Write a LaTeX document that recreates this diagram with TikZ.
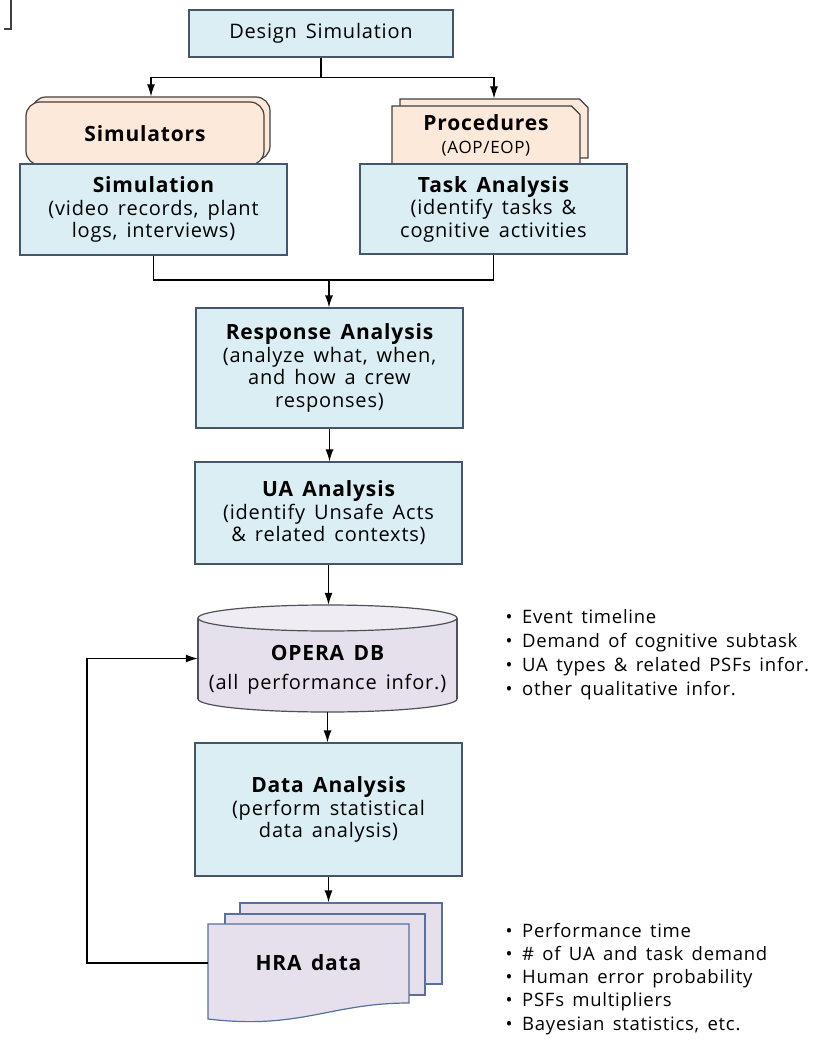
\documentclass[tikz,border=0pt]{standalone}
\usepackage{fontspec}
\setmainfont{Open Sans}[LetterSpace=4,WordSpace=1.5]
\usetikzlibrary{arrows.meta,shapes.misc,shadows}

\definecolor{boxblue}{HTML}{DAEEF3}
\definecolor{boxline}{HTML}{45556A}
\definecolor{peach}{HTML}{FDE9D9}
\definecolor{peachline}{HTML}{404040}
\definecolor{lilac}{HTML}{E5E0EC}
\definecolor{lilactop}{HTML}{EFECF4}
\definecolor{dbline}{HTML}{505058}
\definecolor{pageline}{HTML}{5670A0}

\newcommand{\boxfont}{\fontsize{20}{22.5}\selectfont}
\newcommand{\notefont}{\fontsize{18.5}{22}\selectfont}
\newcommand{\boxtitle}[1]{{\fontsize{21}{22.5}\selectfont\bfseries #1}}

\tikzset{
    stepbox/.style={draw=boxline, fill=boxblue, line width=1.2pt, inner sep=0pt, align=center, font=\boxfont},
    sourcebox/.style={draw=peachline, fill=peach, line width=1.2pt, inner sep=0pt, align=center, font=\boxfont},
    page/.style={draw=pageline, fill=lilac, line width=1.2pt, inner sep=0pt},
    link/.style={line width=1.2pt},
    arrow/.style={line width=1.2pt, -{Latex[length=12pt,width=8pt]}},
    note/.style={font=\notefont, anchor=base west, inner sep=0pt}
}

\begin{document}
\begin{tikzpicture}[x=1pt, y=-1pt]
    \useasboundingbox (0,0) rectangle (815,1040);
    \draw[line width=2pt, black!75] (11,0) -- (11,29) -- (4,29);

    \node[stepbox, minimum width=264, minimum height=47] (design) at (321,33.5) {Design Simulation};

    \node[sourcebox, rounded corners=14pt, minimum width=238, minimum height=63,
        copy shadow={shadow xshift=6pt, shadow yshift=5pt, fill=peach, draw=peachline, line width=1.2pt}]
        (sims) at (145,133.5) {\boxtitle{Simulators}};
    \node[sourcebox, chamfered rectangle, chamfered rectangle corners=north east,
        chamfered rectangle xsep=5pt, minimum width=188, minimum height=59,
        copy shadow={shadow xshift=8pt, shadow yshift=7pt, fill=peach, draw=peachline, line width=1.2pt}]
        (proc) at (486,135.5) {\boxtitle{Procedures}\\{\fontsize{17}{20}\selectfont (AOP/EOP)}};

    \node[stepbox, minimum width=267, minimum height=91] (sim) at (153.5,209.5)
        {\boxtitle{Simulation}\\(video records, plant\\logs, interviews)};
    \node[stepbox, minimum width=267, minimum height=90] (task) at (493.5,209)
        {\boxtitle{Task Analysis}\\(identify tasks \&\\cognitive activities};

    \node[stepbox, minimum width=267, minimum height=120] (resp) at (329.5,368)
        {\boxtitle{Response Analysis}\\(analyze what, when,\\and how a crew\\responses)};
    \node[stepbox, minimum width=267, minimum height=102] (ua) at (328.5,513)
        {\boxtitle{UA Analysis}\\(identify Unsafe Acts\\\& related contexts)};

    % OPERA DB cylinder
    \fill[lilac] (198,618) rectangle (457,699);
    \begin{scope}
        \clip (190,699) rectangle (465,720);
        \draw[dbline, line width=1.2pt, fill=lilac] (327.5,699) ellipse [x radius=129.5, y radius=13];
    \end{scope}
    \draw[dbline, line width=1.2pt] (198,618) -- (198,699) (457,618) -- (457,699);
    \draw[dbline, line width=1.2pt, fill=lilactop] (327.5,618) ellipse [x radius=129.5, y radius=13];
    \node[inner sep=0pt, minimum width=259, minimum height=107] (db) at (327.5,658.5) {};
    \node[font=\boxfont, align=center, inner sep=0pt] (dbtext) at (327.5,670)
        {\boxtitle{OPERA DB}\\[6pt](all performance infor.)};

    \node[stepbox, minimum width=267, minimum height=133] (data) at (328.5,809.5)
        {\boxtitle{Data Analysis}\\(perform statistical\\data analysis)};

    % HRA data pages
    \node[page, minimum width=202, minimum height=81] (hra3) at (341,943.5) {};
    \node[page, minimum width=200, minimum height=81] (hra2) at (325,954.5) {};
    \draw[page] (208,924) -- (409,924) -- (409,1003)
        .. controls (330,1003) and (300,1030) .. (208,1019) -- cycle;
    \node[inner sep=0pt, minimum width=201, minimum height=79, font=\boxfont] (hra) at (308.5,963)
        {\boxtitle{HRA data}};

    \coordinate (join) at (329,280);
    \coordinate (fb) at (87,963);

    \draw[arrow] (design.south) -- ++(0,20) -| ([xshift=6pt,yshift=5pt]sims.north);
    \draw[arrow] (design.south) -- ++(0,20) -| ([xshift=8pt,yshift=7pt]proc.north);
    \draw[link] (sim.south) |- (join);
    \draw[link] (task.south) |- (join);
    \draw[arrow] (join) -- (join |- resp.north);
    \draw[arrow] (resp.south) -- (resp.south |- ua.north);
    \draw[arrow] (ua.south) -- (ua.south |- db.north);
    \draw[arrow] (db.south) -- (db.south |- data.north);
    \draw[arrow] (data.south) -- (data.south |- hra3.north);
    \draw[arrow] (hra.west) -- (fb) |- (db.west);

    \foreach \txt [count=\i] in {Event timeline, Demand of cognitive subtask,
            UA types \& related PSFs infor., other qualitative infor.}
        \node[note] (dbnote\i) at (505.5,{623+24.3*(\i-1)}) {\makebox[16.5pt][l]{\textbullet}\txt};
    \foreach \txt [count=\i] in {Performance time, \# of UA and task demand,
            Human error probability, PSFs multipliers, {Bayesian statistics, etc.}}
        \node[note] (hranote\i) at (505.5,{937+23.25*(\i-1)}) {\makebox[16.5pt][l]{\textbullet}\txt};
\end{tikzpicture}
\end{document}
